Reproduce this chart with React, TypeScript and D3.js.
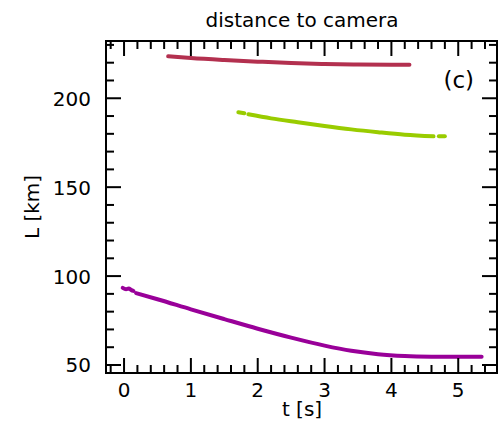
import React from "react";
import * as d3 from "d3";

// Distance to camera, L [km], against time t [s], for three tracked objects
const purpleHead: [number, number][] = [
  [-0.02, 93.4], [0.03, 92.6], [0.07, 93.0], [0.11, 92.1], [0.14, 91.7],
];
const purpleMain: [number, number][] = [
  [0.18, 90.4], [0.5, 87.0], [1.0, 81.3], [1.5, 75.8], [2.0, 70.4], [2.5, 65.4],
  [3.0, 60.9], [3.4, 58.0], [3.8, 56.1], [4.2, 55.1], [4.6, 54.7], [5.0, 54.6], [5.35, 54.6],
];
const greenHead: [number, number][] = [[1.71, 192.1], [1.8, 191.6]];
const greenMain: [number, number][] = [
  [1.86, 191.0], [2.2, 188.7], [2.6, 186.5], [3.0, 184.4], [3.4, 182.5],
  [3.8, 180.9], [4.2, 179.5], [4.63, 178.6],
];
const greenTail: [number, number][] = [[4.71, 178.6], [4.8, 178.6]];
const redMain: [number, number][] = [
  [0.66, 223.6], [1.0, 222.6], [1.5, 221.5], [2.0, 220.6], [2.5, 219.8],
  [3.0, 219.3], [3.5, 219.0], [4.0, 218.9], [4.27, 218.9],
];

const xMajor = [0, 1, 2, 3, 4, 5];
const yMajor = [50, 100, 150, 200];

const W = 498;
const H = 422;
const left = 106, right = 497, top = 41, bottom = 373;

export default function App() {
  const x = d3.scaleLinear().domain([-0.27, 5.58]).range([left, right]);
  const y = d3.scaleLinear().domain([45.5, 232.2]).range([bottom, top]);
  const line = d3
    .line<[number, number]>()
    .x((d) => x(d[0]))
    .y((d) => y(d[1]))
    .curve(d3.curveMonotoneX);

  const xMinor = d3.range(-0.2, 5.58, 0.2).map((v) => +v.toFixed(1)).filter((v) => !xMajor.includes(v));
  const yMinor = d3.range(50, 232, 10).filter((v) => !yMajor.includes(v));

  const font = "'DejaVu Sans', sans-serif";
  const series = [
    { segs: [purpleHead, purpleMain], color: "#990099" },
    { segs: [greenHead, greenMain, greenTail], color: "#99cc00" },
    { segs: [redMain], color: "#b3304f" },
  ];

  const tickStroke = { stroke: "#000", strokeWidth: 2 };
  return (
    <svg
      width={W}
      height={H}
      style={{ position: "absolute", left: 0, top: 0, background: "#fff" }}
      fontFamily={font}
    >
      {series.map((s, i) =>
        s.segs.map((seg, j) => (
          <path
            key={`${i}-${j}`}
            d={line(seg) || ""}
            fill="none"
            stroke={s.color}
            strokeWidth={4}
            strokeLinecap="round"
          />
        ))
      )}

      {/* x ticks, bottom and top, pointing inward */}
      {xMajor.map((v) => (
        <g key={`xM${v}`}>
          <line x1={x(v)} x2={x(v)} y1={bottom} y2={bottom - 15} {...tickStroke} />
          <line x1={x(v)} x2={x(v)} y1={top} y2={top + 15} {...tickStroke} />
          <text x={x(v)} y={397} fontSize={20} textAnchor="middle" fill="#000">
            {v}
          </text>
        </g>
      ))}
      {xMinor.map((v) => (
        <g key={`xm${v}`}>
          <line x1={x(v)} x2={x(v)} y1={bottom} y2={bottom - 8} {...tickStroke} />
          <line x1={x(v)} x2={x(v)} y1={top} y2={top + 8} {...tickStroke} />
        </g>
      ))}

      {/* y ticks, left and right, pointing inward */}
      {yMajor.map((v) => (
        <g key={`yM${v}`}>
          <line x1={left} x2={left + 15} y1={y(v)} y2={y(v)} {...tickStroke} />
          <line x1={right} x2={right - 15} y1={y(v)} y2={y(v)} {...tickStroke} />
          <text x={91} y={y(v) + 7.5} fontSize={20} textAnchor="end" fill="#000">
            {v}
          </text>
        </g>
      ))}
      {yMinor.map((v) => (
        <g key={`ym${v}`}>
          <line x1={left} x2={left + 8} y1={y(v)} y2={y(v)} {...tickStroke} />
          <line x1={right} x2={right - 8} y1={y(v)} y2={y(v)} {...tickStroke} />
        </g>
      ))}

      <rect
        x={left}
        y={top}
        width={right - left}
        height={bottom - top}
        fill="none"
        stroke="#000"
        strokeWidth={2}
      />

      <text x={302} y={27} fontSize={20} textAnchor="middle" fill="#000">
        distance to camera
      </text>
      <text x={302} y={416} fontSize={20} textAnchor="middle" fill="#000">
        t [s]
      </text>
      <text
        transform={`translate(39,207) rotate(-90)`}
        fontSize={20}
        textAnchor="middle"
        fill="#000"
      >
        L [km]
      </text>
      <text x={474} y={88} fontSize={23} textAnchor="end" fill="#000">
        (c)
      </text>
    </svg>
  );
}
